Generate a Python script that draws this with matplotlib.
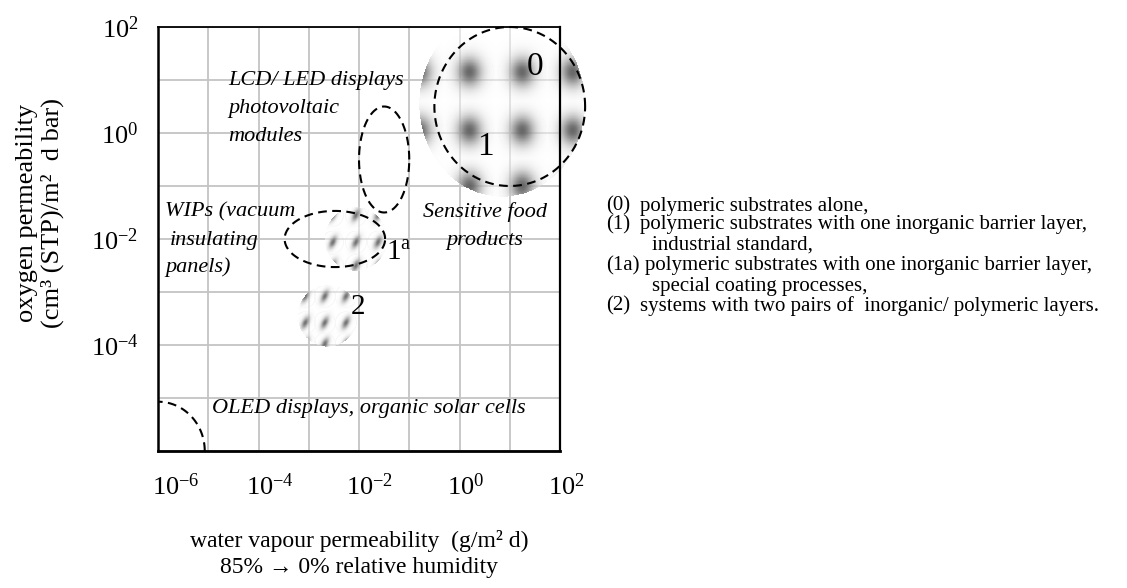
import numpy as np
import matplotlib
matplotlib.use("Agg")
import matplotlib.pyplot as plt
from matplotlib.colors import LinearSegmentedColormap
from matplotlib.ticker import NullLocator
from matplotlib.transforms import ScaledTranslation

plt.rcParams['font.family'] = ['Liberation Serif', 'DejaVu Serif']
plt.rcParams['mathtext.fontset'] = 'custom'
plt.rcParams['mathtext.rm'] = 'Liberation Serif'
plt.rcParams['mathtext.it'] = 'Liberation Serif:italic'
plt.rcParams['mathtext.bf'] = 'Liberation Serif:bold'

# ---------------- data ----------------
x_decades = [-6, -5, -4, -3, -2, -1, 0, 1, 2]
y_decades = [-6, -5, -4, -3, -2, -1, 0, 1, 2]
x_tick_labels = ['$10^{-6}$', '', '$10^{-4}$', '', '$10^{-2}$', '', '$10^{0}$', '', '$10^{2}$']
y_tick_labels = ['', '', '$10^{-4}$', '', '$10^{-2}$', '', '$10^{0}$', '', '$10^{2}$']

# dashed application regions (log10 centre and log10 half axes)
region_names = ['0/1', 'LCD/LED', '1a']
region_cx = [1.0, -1.5, -2.48]
region_cy = [0.5, -0.5, -2.0]
region_rx = [1.5, 0.5, 1.0]
region_ry = [1.5, 1.0, 0.53]
oled_radius = 0.93          # quarter ellipse around lower-left corner (log10 decades)

# material clusters (shaded spots): disk centre/half axes and spot lattice (log10)
cluster_names = ['0/1', '1a', '2']
cluster_cx = [0.85, -2.06, -2.62]
cluster_cy = [0.55, -2.0, -3.45]
cluster_rx = [1.65, 0.62, 0.6]
cluster_ry = [1.75, 0.6, 0.58]
cluster_spot_x = [[-0.8, 0.2, 1.25, 2.25], [-2.52, -2.06, -1.62], [-3.07, -2.68, -2.26]]
cluster_spot_y = [[1.15, 0.05, -1.0], [-1.55, -2.06, -2.5], [-3.08, -3.58, -3.98]]

legend_keys = ['(0)', '(1)', '', '(1a)', '', '(2)']
legend_texts = ['polymeric substrates alone,',
                'polymeric substrates with one inorganic barrier layer,',
                'industrial standard,',
                'polymeric substrates with one inorganic barrier layer,',
                'special coating processes,',
                'systems with two pairs of  inorganic/ polymeric layers.']

# ---------------- figure ----------------
W, H = 1127, 588
fig = plt.figure(figsize=(W / 100, H / 100), dpi=100)
ax = fig.add_axes([158 / W, 137 / H, 402 / W, 424 / H])
ax.set_xscale('log')
ax.set_yscale('log')

# shaded spot clusters
cmap = LinearSegmentedColormap.from_list(
    'spot', [(1, 1, 1, 0.5), (0.34, 0.34, 0.34, 1.0)])
cmap.set_bad((1, 1, 1, 0))

spot_style = [  # sigma major, sigma minor, angle(deg), ring radius, peak, n
    (0.225, 0.2, 90, 0.47, 0.93, 500),
    (0.10, 0.052, 62, 0.21, 0.88, 300),
    (0.10, 0.052, 62, 0.21, 0.88, 300),
]
for k in range(len(cluster_names)):
    cx, cy, rx, ry = cluster_cx[k], cluster_cy[k], cluster_rx[k], cluster_ry[k]
    sa, sb, ang, rr, peak, n = spot_style[k]
    ex = np.linspace(cx - rx, cx + rx, n + 1)
    ey = np.linspace(cy - ry, cy + ry, n + 1)
    xc = 0.5 * (ex[:-1] + ex[1:])
    yc = 0.5 * (ey[:-1] + ey[1:])
    X, Y = np.meshgrid(xc, yc)
    inside = ((X - cx) / rx) ** 2 + ((Y - cy) / ry) ** 2 <= 1.0
    I = np.zeros_like(X)
    a = np.deg2rad(ang)
    for sx in cluster_spot_x[k]:
        for sy in cluster_spot_y[k]:
            dx, dy = X - sx, Y - sy
            u = dx * np.cos(a) + dy * np.sin(a)
            v = -dx * np.sin(a) + dy * np.cos(a)
            g = peak * np.exp(-0.5 * ((u / sa) ** 2 + (v / sb) ** 2))
            d = np.sqrt(dx ** 2 + dy ** 2)
            ring = 0.09 * np.exp(-0.5 * ((d - rr) / (0.012 if k == 0 else 0.008)) ** 2)
            I = np.maximum(I, np.maximum(g, ring))
    C = np.ma.masked_where(~inside, I)
    ax.pcolormesh(10.0 ** ex, 10.0 ** ey, C, cmap=cmap, vmin=0, vmax=1,
                  shading='flat', clip_on=False, zorder=2, antialiased=False)

# dashed region boundaries
t = np.linspace(0, 2 * np.pi, 500)
dash = (0, (4.2, 2.6))
for cx, cy, rx, ry in zip(region_cx, region_cy, region_rx, region_ry):
    ax.plot(10.0 ** (cx + rx * np.cos(t)), 10.0 ** (cy + ry * np.sin(t)),
            color='black', lw=1.5, ls=dash, clip_on=False, zorder=4)
tq = np.linspace(0, np.pi / 2, 100)
ax.plot(10.0 ** (x_decades[0] + oled_radius * np.cos(tq)),
        10.0 ** (y_decades[0] + oled_radius * np.sin(tq)),
        color='black', lw=1.5, ls=dash, zorder=4)

# axes, grid, ticks
ax.set_xlim(10.0 ** x_decades[0], 10.0 ** x_decades[-1])
ax.set_ylim(10.0 ** y_decades[0], 10.0 ** y_decades[-1])
ax.set_xticks(10.0 ** np.array(x_decades))
ax.set_yticks(10.0 ** np.array(y_decades))
ax.set_xticklabels(x_tick_labels)
ax.set_yticklabels(y_tick_labels)
ax.xaxis.set_minor_locator(NullLocator())
ax.yaxis.set_minor_locator(NullLocator())
ax.tick_params(axis='both', length=0, labelsize=19)
ax.tick_params(axis='x', pad=16)
ax.tick_params(axis='y', pad=14)
ax.set_axisbelow(True)
ax.grid(True, color='#c4c4c4', lw=1.3)
for side, lw in [('left', 1.8), ('bottom', 2.0), ('top', 1.3), ('right', 1.6)]:
    ax.spines[side].set_linewidth(lw)
    ax.spines[side].set_color('black')
    ax.spines[side].set_zorder(5)

for i, lab in enumerate(ax.get_xticklabels()):
    lab.set_ha('left')
    dx = -4.5 if i == 0 else -9.0
    lab.set_transform(lab.get_transform() + ScaledTranslation(dx / 72, 0, fig.dpi_scale_trans))

ax.set_xlabel('water vapour permeability  (g/m² d)\n85% → 0% relative humidity',
              fontsize=17, linespacing=1.3, va='center')
ax.xaxis.set_label_coords(0.5, -0.243)
ax.set_ylabel('oxygen permeability\n(cm³ (STP)/m²  d bar)', fontsize=19,
              linespacing=1.15, va='center')
ax.yaxis.set_label_coords(-0.293, 0.561)

# region annotations
it = dict(style='italic', fontsize=16, va='center', zorder=6)
for txt, ly in zip(['LCD/ LED displays', 'photovoltaic', 'modules'], [1.0, 0.47, -0.06]):
    ax.text(10 ** -4.61, 10 ** ly, txt, ha='left', **it)
for txt, lx, ly in zip(['WIPs (vacuum', 'insulating', 'panels)'],
                       [-5.86, -5.76, -5.86], [-1.49, -2.02, -2.53]):
    ax.text(10 ** lx, 10 ** ly, txt, ha='left', **it)
for txt, ly in zip(['Sensitive food', 'products'], [-1.49, -2.02]):
    ax.text(10 ** 0.51, 10 ** ly, txt, ha='center', **it)
ax.text(10 ** -4.93, 10 ** -5.19, 'OLED displays, organic solar cells', ha='left', **it)

# cluster numbers
num = dict(va='center', zorder=6)
ax.text(10 ** 1.5, 10 ** 1.25, '0', ha='center', fontsize=24, **num)
ax.text(10 ** 0.51, 10 ** -0.26, '1', ha='center', fontsize=24, **num)
ax.text(10 ** -1.46, 10 ** -2.26, r'1$^{\mathrm{a}}$', ha='left', fontsize=21, **num)
ax.text(10 ** -2.02, 10 ** -3.28, '2', ha='center', fontsize=21, **num)

# legend text block
leg_y = [206, 225, 245, 266, 286, 306]
for key, txt, py in zip(legend_keys, legend_texts, leg_y):
    if key:
        fig.text(606 / W, 1 - py / H, key, fontsize=15, va='center', ha='left')
        tx = 645 if key == '(1a)' else 640
    else:
        tx = 652
    fig.text(tx / W, 1 - py / H, txt, fontsize=15, va='center', ha='left')

fig.savefig('out.png', dpi=100, facecolor='white')
